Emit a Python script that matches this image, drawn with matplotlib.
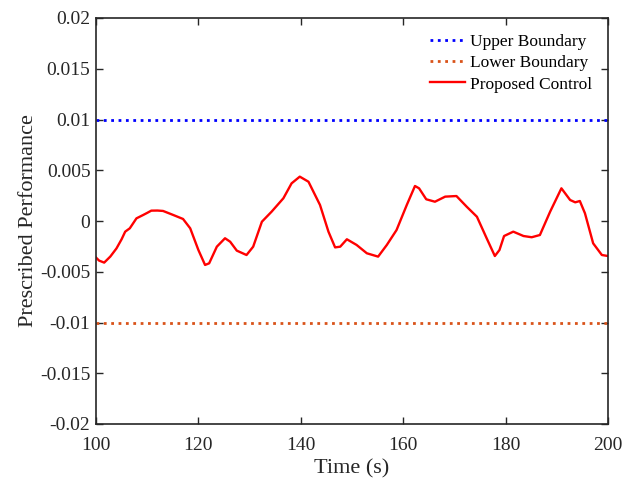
import matplotlib
matplotlib.use("Agg")
import matplotlib.pyplot as plt
from matplotlib.ticker import FixedLocator, FixedFormatter

plt.rcParams['font.family'] = ['Liberation Serif', 'DejaVu Serif']

time_s = [100.0, 100.6, 101.6, 102.8, 104.0, 105.0, 105.7, 106.6, 107.9, 109.2, 110.0, 110.8,
          112.0, 113.1, 115.1, 117.0, 118.4, 120.0, 121.3, 122.1, 123.6, 125.2, 126.2,
          127.5, 129.4, 130.7, 132.4, 134.3, 136.6, 138.2, 139.8, 141.5, 143.75, 145.4,
          146.7, 147.7, 149.0, 150.9, 152.9, 155.1, 156.8, 158.7, 160.7, 162.3, 163.1,
          164.5, 166.2, 168.2, 170.4, 172.4, 174.4, 176.3, 177.9, 178.8, 179.7, 181.5,
          183.5, 185.1, 186.7, 188.7, 190.9, 192.6, 193.6, 194.5, 195.5, 197.1, 198.8, 200.0]
control = [-0.0036, -0.0039, -0.0041, -0.0035, -0.0027, -0.0018, -0.00105, -0.00072, 0.00026,
           0.00059, 0.0008, 0.00102, 0.00103, 0.00099, 0.00059, 0.0002, -0.00072, -0.00286,
           -0.00433, -0.00417, -0.00253, -0.0017, -0.00204, -0.00292, -0.00335, -0.00253,
           -0.00007, 0.00092, 0.00224, 0.00371, 0.00437, 0.00387, 0.00158, -0.00105,
           -0.0026, -0.00253, -0.0018, -0.00236, -0.00318, -0.00351, -0.00236, -0.00089,
           0.00158, 0.00345, 0.00322, 0.00214, 0.0019, 0.0024, 0.00246, 0.00141, 0.00042,
           -0.0017, -0.00345, -0.00286, -0.00148, -0.00105, -0.00148, -0.0016, -0.00138,
           0.00092, 0.00322, 0.00207, 0.00184, 0.00197, 0.00076, -0.0022, -0.00335, -0.00345]
upper_bound = 0.01
lower_bound = -0.01

xticks = [100, 120, 140, 160, 180, 200]
yticks = [-0.02, -0.015, -0.01, -0.005, 0, 0.005, 0.01, 0.015, 0.02]
ytick_labels = ['-0.02', '-0.015', '-0.01', '-0.005', '0', '0.005', '0.01', '0.015', '0.02']

fig = plt.figure(figsize=(6.24, 4.8), dpi=100)
ax = fig.add_axes([96/624, 56/480, 512/624, 406/480])

ax.plot([100, 200], [upper_bound, upper_bound], linestyle=':', color='#0000FF', lw=2.0,
        label='Upper Boundary')
ax.plot([100, 200], [lower_bound, lower_bound], linestyle=':', color='#D95319', lw=2.0,
        label='Lower Boundary')
ax.plot(time_s, control, color='#FF0000', lw=1.7, label='Proposed Control')

ax.set_xlim(100, 200)
ax.set_ylim(-0.02, 0.02)
ax.xaxis.set_major_locator(FixedLocator(xticks))
ax.yaxis.set_major_locator(FixedLocator(yticks))
ax.yaxis.set_major_formatter(FixedFormatter(ytick_labels))
ax.tick_params(direction='in', top=True, right=True, labelsize=14, length=5,
               width=1.0, colors='#262626', labelcolor='#262626')
ax.tick_params(axis='x', pad=9)
ax.tick_params(axis='y', pad=4)
for s in ax.spines.values():
    s.set_linewidth(1.2)
    s.set_color('#262626')

ax.set_xlabel('Time (s)', fontsize=16, color='#262626', labelpad=4)
ax.set_ylabel('Prescribed Performance', fontsize=16, color='#262626', labelpad=1.5)

ax.legend(loc='upper right', frameon=False, fontsize=12.5, handlelength=2.0,
          handletextpad=0.3, labelspacing=0.3, borderaxespad=0.5)

fig.savefig('out.png', dpi=100)
